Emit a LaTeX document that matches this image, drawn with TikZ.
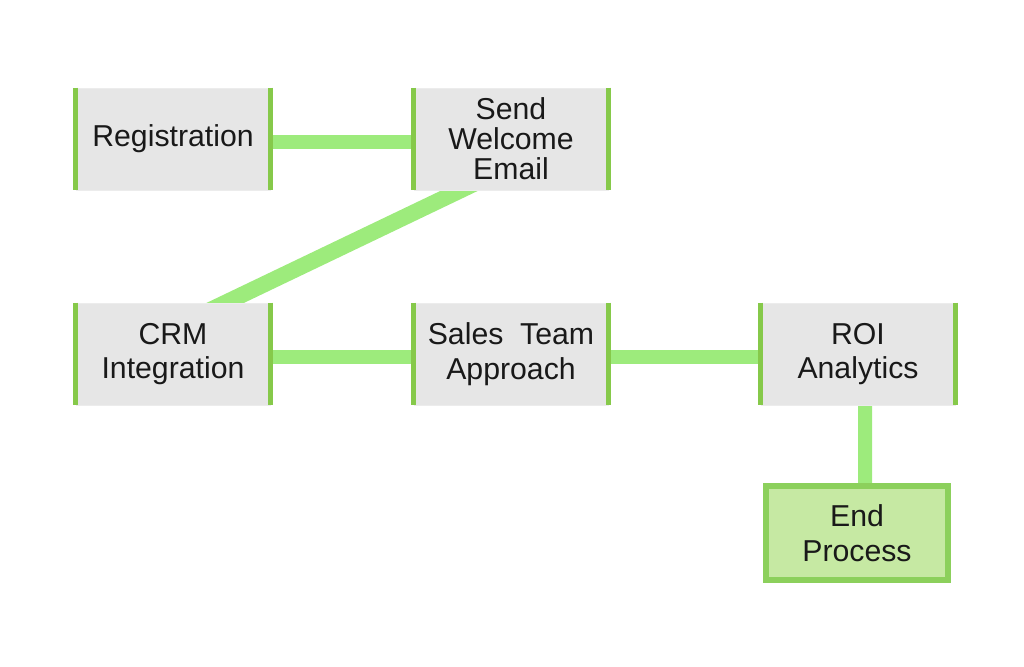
\documentclass[tikz,border=0pt]{standalone}
\usepackage{fontspec}
\setmainfont{Liberation Sans}
\usetikzlibrary{backgrounds}
\definecolor{boxgray}{HTML}{E6E6E6}
\definecolor{sidegreen}{HTML}{86C94A}
\definecolor{linkgreen}{HTML}{9DEB7C}
\definecolor{endfill}{HTML}{C6E9A3}
\definecolor{endline}{HTML}{8CD05C}
\begin{document}
\begin{tikzpicture}[
                x=0.025cm, y=-0.025cm,
                every node/.style={font=\fontsize{21.5}{24.5}\selectfont, text=black!90, align=center},
                stepbox/.style={rectangle, fill=boxgray, draw=gray!15, line width=0.4pt,
                    minimum width=4.85cm, minimum height=2.55cm, inner sep=0pt},
                endbox/.style={rectangle, fill=endfill, draw=endline, line width=4pt,
                    minimum width=4.55cm, minimum height=2.35cm, inner sep=0pt},
                link/.style={linkgreen, line width=10pt},
                side/.style={sidegreen, line width=3.5pt}
            ]

            \useasboundingbox (0,0) rectangle (1024,666);

            \node[stepbox] (reg) at (173,139) {Registration};
            \node[stepbox, font=\fontsize{21.5}{21.3}\selectfont] (send) at (511,139) {Send\\Welcome\\Email};
            \node[stepbox] (crm) at (173,354) {CRM\\Integration};
            \node[stepbox] (sales) at (511,354) {Sales\ \ Team\\Approach};
            \node[stepbox] (roi) at (858,354) {ROI\\Analytics};
            \node[endbox] (endp) at (857,533) {End\\Process};

            % connectors, behind the boxes
            \begin{scope}[on background layer]
                \draw[link] ([yshift=-0.075cm]reg.center) -- ([yshift=-0.075cm]send.center);
                \draw[link, line width=11.5pt] ([xshift=1.41cm]send.center) -- ([xshift=-1.36cm]crm.center);
                \draw[link] ([yshift=-0.075cm]crm.center) -- ([yshift=-0.075cm]sales.center);
                \draw[link] ([yshift=-0.075cm]sales.center) -- ([yshift=-0.075cm]roi.center);
                \draw[link] ([xshift=0.18cm]roi.center) -- ([xshift=0.2cm]endp.center);
            \end{scope}

            % green sides
            \foreach \n in {reg,send,crm,sales,roi}
                \draw[side] (\n.north west) -- (\n.south west)
                            (\n.north east) -- (\n.south east);

        \end{tikzpicture}
\end{document}
